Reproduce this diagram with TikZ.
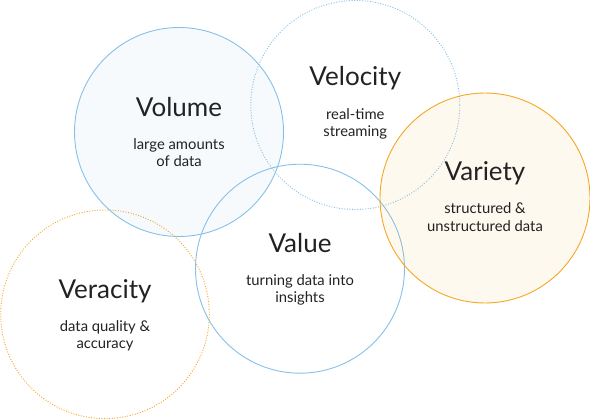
\documentclass[tikz,border=0pt]{standalone}
\usepackage{fontspec}
\setmainfont{Lato}
\definecolor{bluec}{HTML}{86C0E8}
\definecolor{orangec}{HTML}{F5A623}
\definecolor{txt}{HTML}{222222}
\tikzset{
  bluesolid/.style={draw=bluec, line width=0.9pt},
  bluedot/.style={draw=bluec, line width=0.9pt, dash pattern=on 1pt off 1.6pt},
  orangesolid/.style={draw=orangec, line width=0.9pt},
  orangedot/.style={draw=orangec, line width=0.9pt, dash pattern=on 1pt off 1.6pt},
  ttl/.style={anchor=base, inner sep=0pt, text=txt, font=\fontsize{26}{30}\selectfont},
  sub/.style={anchor=base, inner sep=0pt, text=txt, font=\fontsize{14.8}{18}\selectfont},
}
\begin{document}
\begin{tikzpicture}[x=1pt,y=-1pt]
\useasboundingbox (0,0) rectangle (590,420);
% circles
\draw[orangedot] (105,314.3) circle[radius=104.3];
\draw[bluesolid, fill=bluec, fill opacity=0.08] (179,132) circle[radius=104.5];
\draw[bluedot] (355.3,105) circle[radius=104.5];
\draw[bluesolid] (300,268.7) circle[radius=104.5];
\draw[orangesolid, fill=orangec, fill opacity=0.07] (485,198) circle[radius=105];
% texts
\node[ttl] (volt) at (179,116.7) {Volume};
\node[sub] (vols1) at (179,149.3) {large amounts};
\node[sub] (vols2) at (179,166.7) {of data};
\node[ttl] (velt) at (355.3,86) {Velocity};
\node[sub] (vels1) at (355.3,119.3) {real-time};
\node[sub] (vels2) at (355.3,136.7) {streaming};
\node[ttl] (vart) at (485,180.7) {Variety};
\node[sub] (vars1) at (485,213.3) {structured \&};
\node[sub] (vars2) at (485,231) {unstructured data};
\node[ttl] (valt) at (300,252.3) {Value};
\node[sub] (vals1) at (300,285) {turning data into};
\node[sub] (vals2) at (300,302.7) {insights};
\node[ttl] (vert) at (105,298.7) {Veracity};
\node[sub] (vers1) at (105,331) {data quality \&};
\node[sub] (vers2) at (105,348.3) {accuracy};
\end{tikzpicture}
\end{document}
